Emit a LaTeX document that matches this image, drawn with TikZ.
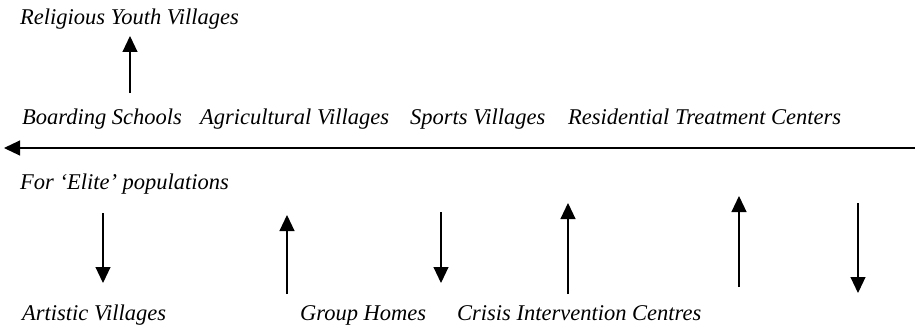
\documentclass[tikz,border=0pt]{standalone}
\usepackage{fontspec}
\setmainfont{Liberation Serif}
\usetikzlibrary{arrows.meta}
\usetikzlibrary{positioning}

\tikzset{
  lbl/.style={anchor=base west, inner sep=0pt, font=\fontsize{22.5}{25}\selectfont\itshape},
  arr/.style={line width=1.1pt, -{Triangle[width=15pt,length=16pt]}}
}

\begin{document}
\begin{tikzpicture}[x=1pt,y=-1pt]
\useasboundingbox (0,0) rectangle (915,329);

% top rows
\node[lbl] (relig) at (20,25) {Religious Youth Villages};
\node[lbl] (board) at (22,124) {Boarding Schools};
\node[lbl] (agri) at (200,124) {Agricultural Villages};
\node[lbl] (sport) at (410,124) {Sports Villages};
\node[lbl] (resid) at (568,124) {Residential Treatment Centers};

% bottom rows
\node[lbl] (elite) at (20,189) {For ‘Elite’ populations};
\node[lbl] (artist) at (22,320) {Artistic Villages};
\node[lbl] (group) at (300,320) {Group Homes};
\node[lbl] (crisis) at (457,320) {Crisis Intervention Centres};

% arrow ends
\coordinate (r0) at (130,93);
\coordinate (r1) at (130,36);
\coordinate (h0) at (915,148);
\coordinate (h1) at (4,148);
\coordinate (a0) at (103,213);
\coordinate (a1) at (103,283);
\coordinate (b0) at (287,294);
\coordinate (b1) at (287,215);
\coordinate (c0) at (441,212);
\coordinate (c1) at (441,283);
\coordinate (d0) at (568,294);
\coordinate (d1) at (568,203);
\coordinate (e0) at (739,287);
\coordinate (e1) at (739,196);
\coordinate (f0) at (858,203);
\coordinate (f1) at (858,293);

\draw[arr] (r0) -- (r1);
\draw[arr] (h0) -- (h1);
\draw[arr] (a0) -- (a1);
\draw[arr] (b0) -- (b1);
\draw[arr] (c0) -- (c1);
\draw[arr] (d0) -- (d1);
\draw[arr] (e0) -- (e1);
\draw[arr] (f0) -- (f1);
\end{tikzpicture}
\end{document}
